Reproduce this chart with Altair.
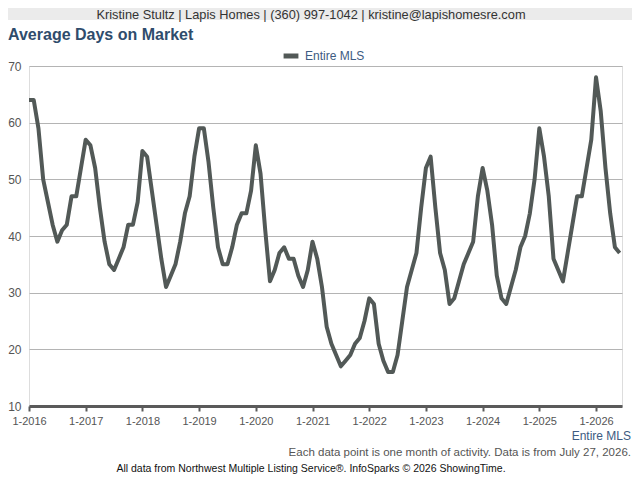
import altair as alt
import pandas as pd

# ---- data (Average Days on Market, Entire MLS, monthly) ----
years = [2016, 2017, 2018, 2019, 2020, 2021, 2022, 2023, 2024, 2025, 2026]
v2016 = [64, 64, 59, 50, 46, 42, 39, 41, 42, 47, 47, 52]
v2017 = [57, 56, 52, 45, 39, 35, 34, 36, 38, 42, 42, 46]
v2018 = [55, 54, 48, 42, 36, 31, 33, 35, 39, 44, 47, 54]
v2019 = [59, 59, 53, 45, 38, 35, 35, 38, 42, 44, 44, 48]
v2020 = [56, 51, 41, 32, 34, 37, 38, 36, 36, 33, 31, 34]
v2021 = [39, 36, 31, 24, 21, 19, 17, 18, 19, 21, 22, 25]
v2022 = [29, 28, 21, 18, 16, 16, 19, 25, 31, 34, 37, 45]
v2023 = [52, 54, 45, 37, 34, 28, 29, 32, 35, 37, 39, 47]
v2024 = [52, 48, 42, 33, 29, 28, 31, 34, 38, 40, 44, 50]
v2025 = [59, 54, 47, 36, 34, 32, 37, 42, 47, 47, 52, 57]
v2026 = [68, 62, 52, 44, 38, 37]
series_name = "Entire MLS"
y_ticks = [10, 20, 30, 40, 50, 60, 70]
x_tick_months = [0, 12, 24, 36, 48, 60, 72, 84, 96, 108, 120]

header_text = "Kristine Stultz | Lapis Homes | (360) 997-1042 | kristine@lapishomesre.com"
title_text = "Average Days on Market"
note_text = "Each data point is one month of activity. Data is from July 27, 2026."
footer_text = "All data from Northwest Multiple Listing Service\u00ae. InfoSparks \u00a9 2026 ShowingTime."

values = v2016 + v2017 + v2018 + v2019 + v2020 + v2021 + v2022 + v2023 + v2024 + v2025 + v2026
df = pd.DataFrame({"m": list(range(len(values))), "dom": values, "series": series_name})

FONT = "Liberation Sans"
LINE_COLOR = "#525957"
BLUE = "#3d5b82"
GRAY_TXT = "#555555"

W, H = 593, 340
PAD_L, PAD_T = 21, 58
TOTAL_W, TOTAL_H = 624, 472

line = alt.Chart(df).mark_line(strokeWidth=4, strokeJoin="round", strokeCap="butt").encode(
    x=alt.X("m:Q",
            scale=alt.Scale(domain=[0, 125.5], nice=False, zero=False),
            axis=alt.Axis(values=x_tick_months, title=None,
                          labelExpr="'1-' + (2016 + datum.value / 12)",
                          labelFont=FONT, labelFontSize=11, labelColor=GRAY_TXT,
                          labelPadding=4, labelOverlap=False, labelBound=False,
                          labelFlush=False, grid=False,
                          domainColor="#5a5a5a", domainWidth=3,
                          tickColor="#5a5a5a", tickWidth=2, tickSize=5)),
    y=alt.Y("dom:Q",
            scale=alt.Scale(domain=[10, 70], nice=False, zero=False),
            axis=alt.Axis(values=y_ticks, title=None, domain=False, ticks=False,
                          labelFont=FONT, labelFontSize=12, labelColor=GRAY_TXT,
                          labelPadding=8, gridColor="#b4b4b4", gridWidth=1)),
    color=alt.Color("series:N", scale=alt.Scale(range=[LINE_COLOR]),
                    legend=alt.Legend(orient="none", legendX=252, legendY=-20, title=None,
                                      symbolType="stroke", symbolStrokeWidth=5,
                                      symbolSize=220, labelFont=FONT, labelFontSize=12,
                                      labelColor=BLUE, padding=0)),
)

band = alt.Chart(pd.DataFrame({"k": [0]})).mark_rect(color="#ebebeb").encode(
    x=alt.value(-PAD_L), x2=alt.value(TOTAL_W - PAD_L), y=alt.value(-PAD_T), y2=alt.value(-46)
)

def txt(s, x, y, size, color, align="left", weight="normal"):
    return alt.Chart(pd.DataFrame({"t": [s]})).mark_text(
        align=align, baseline="middle", fontSize=size, color=color, font=FONT, fontWeight=weight
    ).encode(x=alt.value(x), y=alt.value(y), text="t:N")

header = txt(header_text, 282, -51, 12.8, "#333333", align="center")
title = txt(title_text, -PAD_L, -31, 16, "#2f4c6c", weight="bold")
series_lbl = txt(series_name, 602, 370, 12, BLUE, align="right")
note = txt(note_text, 602, 387, 11.5, GRAY_TXT, align="right")
footer = txt(footer_text, 282, 403, 10.5, "#111111", align="center")

chart = alt.layer(band, line, header, title, series_lbl, note, footer).properties(
    width=W, height=H,
    autosize=alt.AutoSizeParams(type="none"),
    padding={"left": PAD_L, "top": PAD_T, "right": TOTAL_W - PAD_L - W, "bottom": TOTAL_H - PAD_T - H},
).configure_view(stroke=None).configure(background="white")

chart.save("out.html", embed_options={"renderer": "svg", "actions": False})
